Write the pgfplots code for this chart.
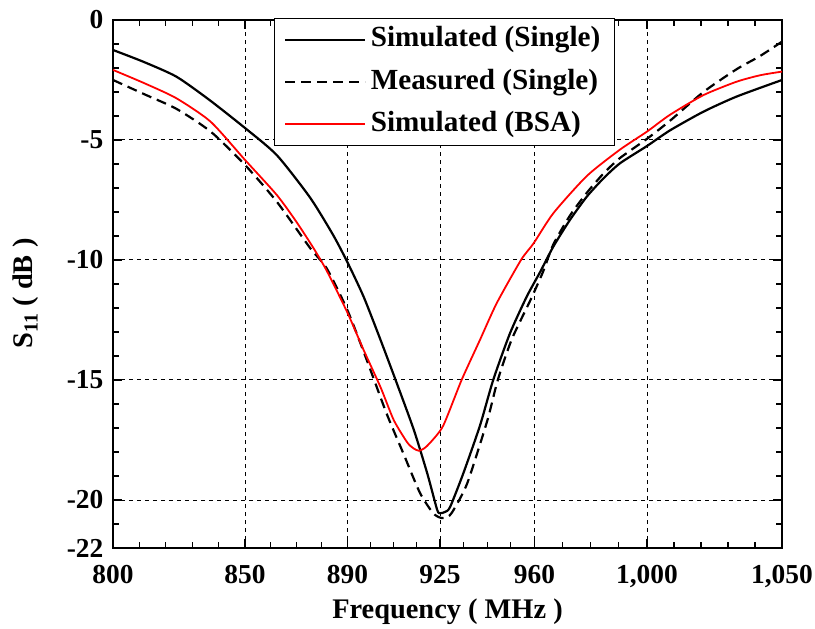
\documentclass[border=0pt]{standalone}
\usepackage{fontspec}
\setmainfont{Liberation Serif}
\usepackage{pgfplots}
\pgfplotsset{compat=1.18}
\begin{document}
\begin{tikzpicture}
\useasboundingbox (-113bp,-81bp) rectangle (702bp,548bp);
\begin{axis}[
  scale only axis, width=669bp, height=528bp,
  x coord trafo/.code={\pgfmathparse{(#1<850) ? ((#1-800)*2.64) : ((#1<890) ? (132+(#1-850)*2.5625) : ((#1<925) ? (234.5+(#1-890)*2.642857) : ((#1<960) ? (327+(#1-925)*2.7) : ((#1<1000) ? (421.5+(#1-960)*2.8125) : (534+(#1-1000)*2.7)))))}},
  xmin=800, xmax=1050, ymin=-22, ymax=0,
  xtick={800,850,890,925,960,1000,1050},
  xticklabels={800,850,890,925,960,{1,000},{1,050}},
  ytick={-22,-20,-15,-10,-5,0},
  yticklabels={-22,-20,-15,-10,-5,0},
  minor xtick={810,820,830,840,860,870,880,898.75,907.5,916.25,933.75,942.5,951.25,970,980,990,1010,1020,1030,1040},
  minor ytick={-21,-19,-18,-17,-16,-14,-13,-12,-11,-9,-8,-7,-6,-4,-3,-2,-1},
  grid=major,
  major grid style={black, line width=1bp, dash pattern=on 4bp off 4bp},
  axis line style={black, line width=2bp},
  tick style={black, line width=1.2bp},
  major tick length=9bp, minor tick length=6bp,
  tick label style={font=\fontsize{27.5}{30}\selectfont\bfseries, inner sep=1bp},
  xticklabel style={yshift=-16bp},
  yticklabel style={xshift=-8.5bp},
  label style={font=\fontsize{28.5}{32}\selectfont\bfseries},
  xlabel={Frequency ( MHz )},
  ylabel={S\textsubscript{11} ( dB )},
  xlabel style={at={(axis description cs:0.5,-0.1326)}, anchor=base},
  ylabel style={at={(axis description cs:-0.1196,0.482)}, anchor=base},
  legend image code/.code={\draw[#1] (0bp,0bp) -- (80bp,0bp);},
  legend style={at={(axis description cs:0.2407,1.0038)}, anchor=north west,
    draw=black, line width=1.2bp, fill=white,
    inner xsep=9.5bp, inner ysep=7.8bp, row sep=15.2bp,
    nodes={inner xsep=4.5bp, inner ysep=0bp, text height=20.5bp, text depth=6.5bp},
    font=\fontsize{29.3}{33}\selectfont\bfseries},
  legend cell align=left,
]
\addplot[black, line width=2.2bp, smooth, tension=0.4] coordinates {
(800,-1.25) (811.5,-1.74) (824,-2.36) (836.5,-3.33) (850,-4.5) (862.4,-5.63)
(875.4,-7.4) (884.4,-8.96) (890,-10.1) (896.1,-11.53) (902.5,-13.33) (908.2,-15.0)
(915.1,-17.08) (920.2,-18.9) (923.9,-20.4) (925,-20.55) (926.8,-20.5) (928.7,-20.3)
(933.6,-18.9) (939.8,-16.9) (944.7,-15.0) (950.9,-13.06) (957.1,-11.53) (962,-10.5)
(966.7,-9.44) (972.6,-8.33) (978.6,-7.36) (984.5,-6.6) (990.4,-5.97) (1000,-5.25)
(1008.5,-4.6) (1020.9,-3.82) (1033.2,-3.19) (1050,-2.5)
};
\addlegendentry{Simulated (Single)}
\addplot[black, line width=2.2bp, dash pattern=on 10bp off 6bp, smooth, tension=0.4] coordinates {
(800,-2.5) (812,-3.1) (824,-3.7) (837,-4.65) (850,-6.04) (862.4,-7.57)
(875.4,-9.5) (881.9,-10.35) (890,-12.1) (897.3,-14.17) (904.8,-16.4) (911.1,-18.05)
(917.4,-19.7) (922.4,-20.55) (925.5,-20.75) (928,-20.7) (930.1,-20.4) (935.1,-19.3)
(942.5,-16.7) (946.4,-15.0) (951.6,-13.3) (958.5,-11.67) (963,-10.5) (966.7,-9.35)
(972.6,-8.15) (978.6,-7.2) (984.5,-6.4) (990.4,-5.75) (1000,-4.95) (1008.5,-4.2)
(1020.9,-3.0) (1033.2,-2.05) (1041.9,-1.5) (1050,-0.9)
};
\addlegendentry{Measured (Single)}
\addplot[red, line width=1.8bp, smooth, tension=0.4] coordinates {
(800,-2.08) (812,-2.64) (824,-3.26) (837,-4.24) (850,-5.83) (862.4,-7.29)
(870,-8.4) (876.7,-9.5) (881.9,-10.45) (890,-12.2) (896.1,-13.75) (902.5,-15.3)
(907.5,-16.67) (912.6,-17.6) (915,-17.85) (917,-17.95) (919,-17.85) (921.4,-17.6)
(926.2,-16.9) (933,-15.0) (939.8,-13.33) (946,-11.8) (955,-10.0) (959.7,-9.3)
(966.7,-8.05) (978.6,-6.5) (990.4,-5.4) (1000,-4.65) (1008.5,-3.95) (1020.9,-3.13)
(1033.2,-2.57) (1042,-2.3) (1050,-2.15)
};
\addlegendentry{Simulated (BSA)}
\end{axis}
\end{tikzpicture}
\end{document}
